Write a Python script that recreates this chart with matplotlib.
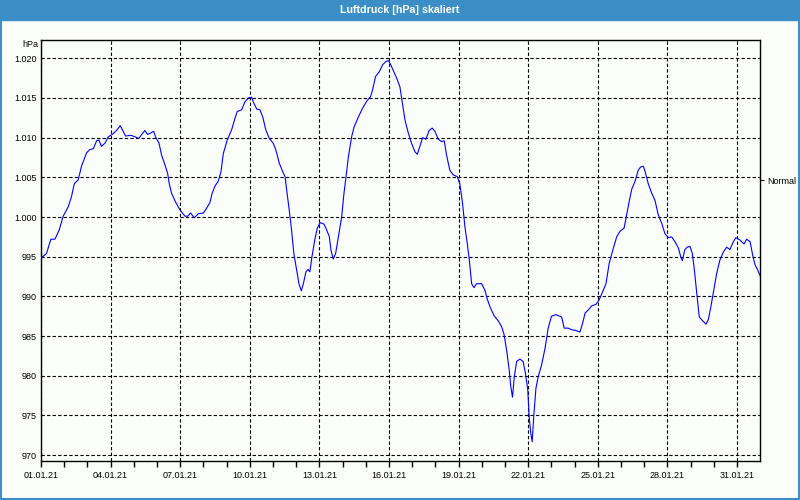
import datetime as dt
import matplotlib
matplotlib.use("Agg")
import matplotlib.pyplot as plt
import matplotlib.dates as mdates
from matplotlib.patches import Rectangle
from matplotlib.ticker import FuncFormatter, MultipleLocator

# time in days since 01.01.21 00:00, pressure in hPa
days = [
    0.00, 0.24, 0.43, 0.60, 0.78, 0.96, 1.18, 1.32, 1.44, 1.61, 1.75, 1.97, 2.11, 2.26,
    2.40, 2.50, 2.61, 2.76, 2.90, 3.07, 3.26, 3.42, 3.51, 3.65, 3.88, 4.05, 4.22, 4.37,
    4.48, 4.60, 4.74, 4.86, 4.94, 5.09, 5.20, 5.32, 5.46, 5.53, 5.63, 5.80, 5.99, 6.21,
    6.32, 6.45, 6.61, 6.78, 7.00, 7.14, 7.28, 7.38, 7.50, 7.64, 7.76, 7.86, 8.03, 8.22,
    8.36, 8.46, 8.65, 8.79, 8.94, 9.08, 9.15, 9.30, 9.44, 9.56, 9.69, 9.84, 10.01, 10.13,
    10.27, 10.45, 10.52, 10.59, 10.70, 10.80, 10.90, 11.02, 11.12, 11.22, 11.31, 11.42,
    11.51, 11.59, 11.68, 11.80, 11.91, 12.03, 12.20, 12.31, 12.43, 12.50, 12.60, 12.70,
    12.82, 12.96, 13.06, 13.15, 13.25, 13.39, 13.49, 13.68, 13.86, 14.04, 14.21, 14.29,
    14.42, 14.58, 14.73, 14.87, 14.98, 15.07, 15.21, 15.33, 15.47, 15.58, 15.69, 15.83,
    15.97, 16.12, 16.22, 16.33, 16.45, 16.59, 16.73, 16.86, 16.98, 17.12, 17.27, 17.38,
    17.48, 17.62, 17.77, 17.94, 18.05, 18.17, 18.27, 18.37, 18.46, 18.56, 18.66, 18.77,
    18.99, 19.13, 19.23, 19.35, 19.52, 19.71, 19.85, 19.95, 20.07, 20.18, 20.25, 20.32,
    20.40, 20.50, 20.64, 20.78, 20.88, 20.98, 21.04, 21.11, 21.17, 21.24, 21.33, 21.43,
    21.57, 21.72, 21.86, 22.00, 22.19, 22.44, 22.55, 22.72, 22.87, 23.05, 23.23, 23.34,
    23.45, 23.59, 23.73, 23.92, 24.06, 24.21, 24.35, 24.49, 24.67, 24.81, 24.95, 25.13,
    25.24, 25.36, 25.46, 25.60, 25.74, 25.84, 25.96, 26.03, 26.17, 26.32, 26.46, 26.60,
    26.75, 26.89, 27.04, 27.18, 27.32, 27.47, 27.57, 27.64, 27.75, 27.85, 27.97, 28.07,
    28.16, 28.26, 28.37, 28.52, 28.66, 28.76, 28.87, 28.97, 29.12, 29.26, 29.41, 29.55,
    29.69, 29.84, 29.95, 30.12, 30.30, 30.41, 30.56, 30.67, 30.77, 30.89, 30.99,
]
pressure = [
    994.8, 995.4, 997.2, 997.2, 998.3, 1000.1, 1001.3, 1002.6, 1004.2, 1004.7, 1006.4,
    1008.1, 1008.5, 1008.6, 1009.6, 1009.7, 1008.9, 1009.3, 1010.1, 1010.4, 1010.9,
    1011.5, 1011.0, 1010.2, 1010.3, 1010.1, 1009.9, 1010.5, 1010.9, 1010.4, 1010.6,
    1010.8, 1010.1, 1009.3, 1007.8, 1006.8, 1005.5, 1004.2, 1003.0, 1001.9, 1000.9,
    1000.1, 1000.1, 1000.5, 999.9, 1000.4, 1000.5, 1001.1, 1001.8, 1003.0, 1003.9,
    1004.5, 1005.7, 1008.0, 1009.7, 1011.0, 1012.4, 1013.3, 1013.5, 1014.5, 1015.0,
    1015.1, 1014.5, 1013.6, 1013.5, 1012.6, 1011.0, 1009.9, 1009.3, 1008.4, 1006.8,
    1005.5, 1005.1, 1003.4, 1000.9, 998.4, 995.4, 993.3, 991.6, 990.7, 991.6, 993.1,
    993.4, 993.1, 995.0, 997.1, 998.6, 999.3, 999.1, 998.4, 997.5, 995.8, 994.7, 995.4,
    997.5, 1000.0, 1003.0, 1005.1, 1007.6, 1010.1, 1011.3, 1012.6, 1013.7, 1014.6,
    1015.2, 1016.0, 1017.7, 1018.3, 1019.2, 1019.6, 1019.7, 1019.2, 1018.3, 1017.5,
    1016.4, 1014.3, 1012.2, 1010.6, 1009.3, 1008.2, 1007.9, 1008.9, 1010.0, 1009.8,
    1010.9, 1011.2, 1010.8, 1009.8, 1009.5, 1009.6, 1007.8, 1005.9, 1005.3, 1005.1,
    1004.2, 1001.7, 998.8, 996.7, 994.6, 991.6, 991.1, 991.6, 991.6, 990.8, 989.7,
    988.7, 987.6, 986.9, 986.2, 985.3, 983.2, 980.7, 978.6, 977.3, 979.9, 981.8, 982.1,
    981.8, 980.3, 978.2, 974.8, 972.7, 971.7, 975.0, 978.4, 979.9, 981.3, 983.4, 986.0,
    987.5, 987.7, 987.4, 986.0, 986.0, 985.8, 985.7, 985.5, 986.6, 987.9, 988.3, 988.8,
    989.0, 989.6, 990.6, 991.6, 994.2, 996.1, 997.5, 998.2, 998.6, 1000.3, 1002.1,
    1003.5, 1004.5, 1005.9, 1006.3, 1006.4, 1005.8, 1004.2, 1003.0, 1002.1, 1000.3,
    999.2, 997.9, 997.4, 997.5, 996.9, 996.1, 995.0, 994.5, 995.9, 996.2, 996.3, 995.4,
    993.3, 990.4, 987.4, 986.9, 986.5, 987.1, 988.7, 990.4, 992.9, 994.6, 995.6, 996.2,
    995.9, 996.9, 997.4, 997.1, 996.6, 997.2, 996.9, 995.2, 994.0, 993.3, 992.6,
]
normal_level = 1004.6
title = "Luftdruck [hPa] skaliert"

start = dt.datetime(2021, 1, 1)
times = [start + dt.timedelta(days=d) for d in days]

bg = "#fbfdfb"
blue = "#3c8fc6"
fs = 6.5
plt.rcParams["font.family"] = ["Liberation Sans", "DejaVu Sans"]

fig = plt.figure(figsize=(8, 5), dpi=100, facecolor=bg)
ax = fig.add_axes([40.9 / 800, 1 - 460.7 / 500, (760.3 - 40.9) / 800, (460.7 - 40) / 500])
ax.set_facecolor(bg)

ax.plot(times, pressure, color="#0000ff", lw=0.8)

# end a minute before 01.02 so that no label is drawn there
ax.set_xlim(start, start + dt.timedelta(days=31) - dt.timedelta(minutes=1))
ax.set_ylim(969.3, 1022.3)

ax.xaxis.set_major_locator(mdates.DayLocator(bymonthday=range(1, 32, 3)))
ax.xaxis.set_minor_locator(mdates.DayLocator())
ax.xaxis.set_major_formatter(mdates.DateFormatter("%d.%m.%y"))
ax.yaxis.set_major_locator(MultipleLocator(5))
ax.yaxis.set_major_formatter(FuncFormatter(lambda v, p: f"{v:,.0f}".replace(",", ".")))

ax.tick_params(axis="x", which="both", length=4, width=1, labelsize=fs, pad=3.5, color="black")
ax.tick_params(axis="y", length=0, labelsize=fs, pad=3)
ax.grid(True, which="major", color="black", lw=0.8, linestyle=(0, (3, 2)))
for s in ax.spines.values():
    s.set_color("black")
    s.set_linewidth(1.0)

ax.text(-0.004, 1.0, "hPa", transform=ax.transAxes, ha="right", va="top", fontsize=fs)

# "Normal" marker on the right axis
ax2 = ax.twinx()
ax2.set_ylim(ax.get_ylim())
ax2.set_yticks([normal_level])
ax2.set_yticklabels(["Normal"])
ax2.tick_params(axis="y", length=3, labelsize=fs, pad=2)
for s in ax2.spines.values():
    s.set_visible(False)

# title bar and window border
fig.patches.append(Rectangle((0, 1 - 20 / 500), 1, 20 / 500, transform=fig.transFigure,
                             color=blue, zorder=0))
fig.text(0.5, 1 - 10 / 500, title, color="white", fontsize=7.7, fontweight="bold",
         ha="center", va="center")
fig.patches.append(Rectangle((0.5 / 800, 1.5 / 500), 798.5 / 800, 1 - 20 / 500 - 1.5 / 500,
                             transform=fig.transFigure, fill=False, edgecolor=blue,
                             lw=1.5, zorder=0))

fig.savefig("out.png", dpi=100, facecolor=bg)
